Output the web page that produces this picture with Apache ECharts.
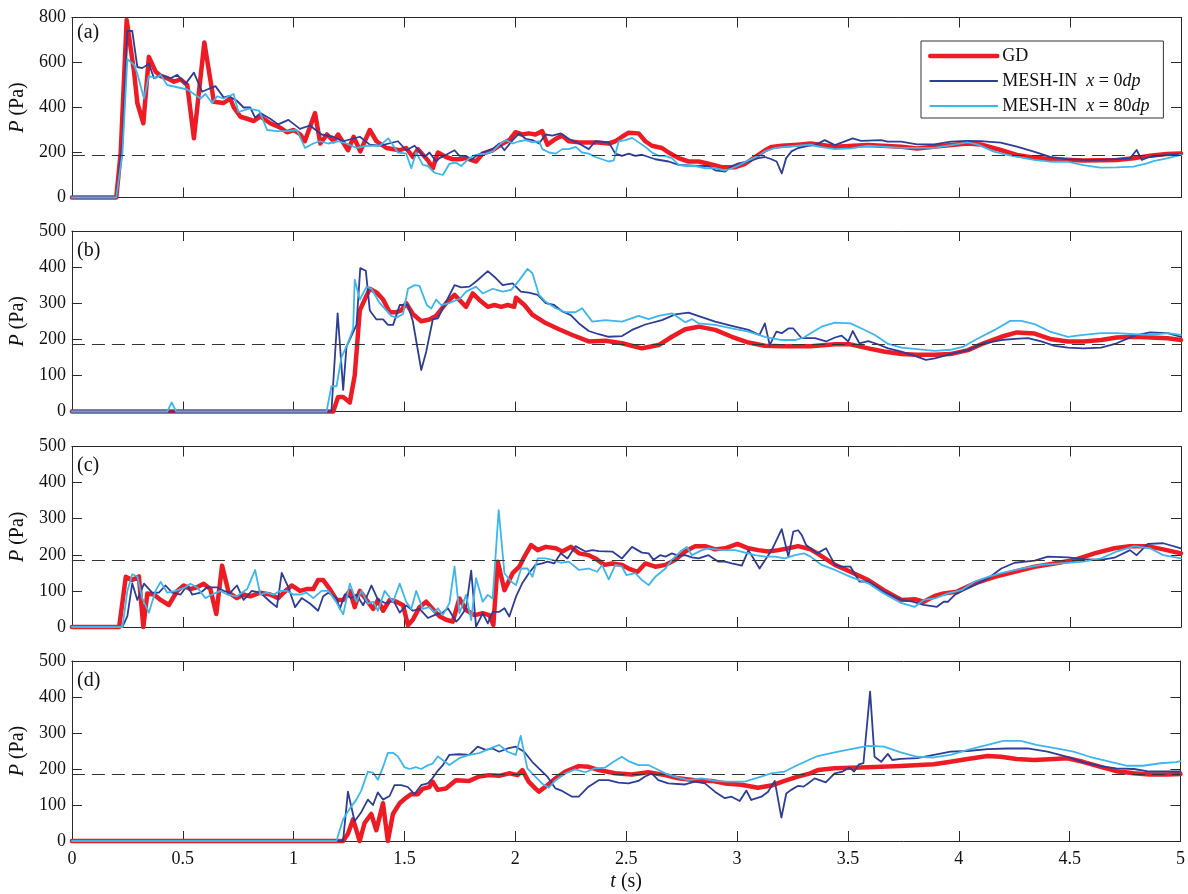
<!DOCTYPE html>
<html><head><meta charset="utf-8">
<script src="https://cdn.jsdelivr.net/npm/echarts@6/dist/echarts.min.js"></script>
<style>html,body{margin:0;padding:0;background:#fff}#c{width:1188px;height:894px}</style>
</head><body><div id="c"></div>
<script>
// ---------- DATA : [t (s), P (Pa)] ----------
const seriesNames = ['GD', 'MESH-IN x = 0dp', 'MESH-IN x = 80dp'];
const panelLabels = ['(a)', '(b)', '(c)', '(d)'];
const refPressure = 186;
const yMax = [800, 500, 500, 500];
const yStep = [200, 100, 100, 100];

const aGD = [[0,0],[0.2,0],[0.22,200],[0.247,789],[0.28,560],[0.295,420],[0.322,330],[0.347,625],[0.377,560],[0.4,540],[0.43,530],[0.46,515],[0.49,525],[0.52,500],[0.55,263],[0.597,689],[0.64,426],[0.684,420],[0.714,440],[0.73,400],[0.76,359],[0.79,350],[0.82,340],[0.85,360],[0.894,330],[0.94,310],[0.97,290],[1.0,300],[1.03,280],[1.05,250],[1.096,375],[1.12,240],[1.15,280],[1.18,250],[1.2,280],[1.245,210],[1.27,270],[1.3,205],[1.343,300],[1.373,250],[1.418,220],[1.478,210],[1.507,220],[1.537,180],[1.56,215],[1.605,165],[1.627,130],[1.65,200],[1.687,180],[1.717,170],[1.747,170],[1.777,175],[1.822,160],[1.852,195],[1.897,210],[1.942,240],[1.972,255],[2.0,290],[2.03,280],[2.06,285],[2.09,280],[2.12,295],[2.144,235],[2.18,260],[2.21,275],[2.24,250],[2.286,245],[2.36,245],[2.42,240],[2.45,250],[2.48,270],[2.51,288],[2.555,285],[2.585,250],[2.615,230],[2.66,220],[2.69,200],[2.735,175],[2.78,160],[2.826,160],[2.87,150],[2.93,135],[2.99,135],[3.035,150],[3.08,180],[3.125,210],[3.155,225],[3.2,230],[3.274,235],[3.33,240],[3.44,226],[3.588,233],[3.74,226],[3.81,218],[3.918,229],[4.037,240],[4.097,236],[4.187,211],[4.26,189],[4.337,177],[4.426,170],[4.56,164],[4.71,167],[4.786,174],[4.86,186],[4.936,193],[5.0,196]];
const aM0 = [[0,0],[0.2,0],[0.228,250],[0.25,740],[0.272,740],[0.295,580],[0.317,575],[0.347,595],[0.37,530],[0.4,545],[0.445,530],[0.475,545],[0.512,505],[0.55,555],[0.587,470],[0.61,480],[0.647,495],[0.684,445],[0.707,450],[0.744,430],[0.774,400],[0.804,400],[0.826,355],[0.85,375],[0.894,350],[0.93,325],[0.976,345],[1.028,305],[1.073,320],[1.126,280],[1.178,270],[1.223,250],[1.298,270],[1.343,235],[1.388,230],[1.47,250],[1.507,210],[1.545,230],[1.59,180],[1.612,200],[1.642,160],[1.657,175],[1.687,190],[1.725,210],[1.747,185],[1.777,185],[1.8,165],[1.822,185],[1.852,200],[1.897,215],[1.927,240],[1.95,210],[1.987,255],[2.017,285],[2.046,260],[2.076,255],[2.106,240],[2.136,280],[2.166,275],[2.204,285],[2.241,260],[2.286,240],[2.33,215],[2.36,250],[2.42,245],[2.45,195],[2.48,185],[2.51,195],[2.54,185],[2.57,190],[2.63,170],[2.69,160],[2.735,145],[2.826,140],[2.87,140],[2.9,121],[2.945,115],[2.975,140],[3.0,150],[3.05,160],[3.094,175],[3.124,180],[3.154,170],[3.177,160],[3.2,107],[3.22,175],[3.244,205],[3.274,220],[3.318,230],[3.35,233],[3.394,255],[3.44,233],[3.52,263],[3.558,252],[3.648,255],[3.678,248],[3.738,248],[3.81,236],[3.888,236],[3.963,248],[4.037,252],[4.097,251],[4.187,244],[4.26,226],[4.337,204],[4.41,181],[4.486,171],[4.56,167],[4.636,167],[4.71,171],[4.77,174],[4.8,211],[4.823,167],[4.86,181],[4.936,189],[5.0,192]];
const aM80 = [[0,0],[0.2,0],[0.228,200],[0.25,615],[0.28,590],[0.295,550],[0.325,440],[0.347,540],[0.377,530],[0.4,545],[0.43,500],[0.475,490],[0.52,480],[0.55,460],[0.58,440],[0.602,460],[0.632,420],[0.655,450],[0.684,440],[0.729,460],[0.751,380],[0.8,395],[0.845,385],[0.88,300],[0.924,295],[0.97,295],[1.014,300],[1.051,220],[1.088,240],[1.118,250],[1.155,240],[1.2,250],[1.238,240],[1.283,220],[1.328,230],[1.388,230],[1.426,263],[1.47,200],[1.507,195],[1.53,130],[1.552,200],[1.582,145],[1.605,140],[1.635,110],[1.672,100],[1.702,150],[1.732,155],[1.755,140],[1.792,175],[1.822,190],[1.867,195],[1.897,205],[1.927,235],[1.957,255],[1.987,240],[2.017,250],[2.046,255],[2.076,245],[2.106,250],[2.121,215],[2.151,200],[2.181,195],[2.211,215],[2.241,215],[2.271,225],[2.3,200],[2.33,195],[2.36,180],[2.39,170],[2.42,160],[2.443,165],[2.465,250],[2.495,255],[2.525,265],[2.555,245],[2.585,225],[2.615,200],[2.645,185],[2.675,185],[2.705,175],[2.735,145],[2.765,140],[2.81,140],[2.855,130],[2.9,130],[2.945,120],[2.975,130],[3.0,140],[3.05,165],[3.094,185],[3.124,205],[3.17,220],[3.214,225],[3.274,230],[3.33,235],[3.364,226],[3.44,215],[3.513,218],[3.588,230],[3.738,221],[3.888,221],[3.963,233],[4.037,245],[4.082,236],[4.157,204],[4.217,189],[4.337,167],[4.41,159],[4.486,159],[4.56,144],[4.636,133],[4.71,134],[4.786,137],[4.846,152],[4.876,162],[4.936,174],[5.0,189]];

const bGD = [[0,0],[1.178,0],[1.2,40],[1.223,40],[1.253,25],[1.275,100],[1.298,280],[1.32,310],[1.343,340],[1.373,330],[1.403,310],[1.433,275],[1.463,275],[1.485,280],[1.507,300],[1.537,270],[1.575,250],[1.612,255],[1.642,265],[1.657,277],[1.687,300],[1.725,323],[1.777,290],[1.807,327],[1.837,309],[1.875,290],[1.905,295],[1.935,290],[1.965,295],[1.994,290],[2.002,315],[2.04,295],[2.076,268],[2.136,245],[2.196,228],[2.256,212],[2.33,194],[2.405,196],[2.48,189],[2.57,175],[2.645,184],[2.705,207],[2.765,228],[2.826,235],[2.9,226],[2.975,207],[3.05,191],[3.124,182],[3.2,181],[3.33,181],[3.44,186],[3.51,186],[3.59,175],[3.66,166],[3.74,159],[3.81,157],[3.89,157],[3.96,159],[4.04,170],[4.11,189],[4.19,207],[4.26,219],[4.34,216],[4.41,201],[4.49,194],[4.56,194],[4.64,198],[4.71,205],[4.79,207],[4.94,203],[5.0,198]];
const bM0 = [[0,0],[1.17,0],[1.198,272],[1.223,60],[1.238,180],[1.268,220],[1.283,240],[1.3,397],[1.325,390],[1.343,280],[1.373,255],[1.403,255],[1.425,240],[1.448,240],[1.478,295],[1.515,295],[1.537,250],[1.575,115],[1.597,165],[1.627,255],[1.65,258],[1.687,304],[1.725,350],[1.755,344],[1.792,346],[1.822,360],[1.875,389],[1.912,369],[1.942,350],[1.987,355],[2.024,332],[2.06,329],[2.1,323],[2.136,300],[2.174,295],[2.211,277],[2.249,267],[2.286,244],[2.33,223],[2.375,214],[2.42,207],[2.48,209],[2.525,226],[2.585,241],[2.66,253],[2.72,269],[2.78,274],[2.826,264],[2.9,249],[2.975,237],[3.05,226],[3.1,212],[3.124,244],[3.146,184],[3.176,221],[3.2,217],[3.23,230],[3.252,230],[3.29,203],[3.35,203],[3.4,194],[3.44,205],[3.47,210],[3.5,194],[3.52,223],[3.55,189],[3.59,195],[3.63,187],[3.68,175],[3.74,166],[3.8,154],[3.85,143],[3.89,147],[3.96,159],[4.04,170],[4.11,189],[4.19,198],[4.25,201],[4.31,203],[4.37,194],[4.43,182],[4.49,177],[4.56,175],[4.64,177],[4.71,189],[4.79,210],[4.86,219],[4.94,217],[5.0,207]];
const bM80 = [[0,0],[0.43,0],[0.45,25],[0.47,0],[1.148,0],[1.17,70],[1.193,70],[1.215,150],[1.245,190],[1.268,230],[1.275,365],[1.298,310],[1.328,345],[1.35,340],[1.388,300],[1.418,280],[1.44,265],[1.463,260],[1.493,270],[1.515,340],[1.545,350],[1.567,348],[1.6,295],[1.62,285],[1.642,310],[1.665,295],[1.7,300],[1.75,313],[1.777,332],[1.822,346],[1.852,327],[1.897,340],[1.942,332],[1.98,337],[2.017,364],[2.054,395],[2.076,383],[2.106,323],[2.136,304],[2.181,286],[2.226,275],[2.27,275],[2.3,286],[2.346,249],[2.405,253],[2.48,249],[2.555,265],[2.6,256],[2.645,265],[2.705,272],[2.765,247],[2.795,256],[2.826,244],[2.9,240],[2.975,230],[3.05,221],[3.124,207],[3.2,198],[3.26,198],[3.3,205],[3.33,217],[3.38,235],[3.44,246],[3.51,244],[3.56,230],[3.62,212],[3.68,187],[3.74,177],[3.81,173],[3.89,168],[3.96,171],[4.02,180],[4.08,201],[4.16,226],[4.23,251],[4.28,251],[4.34,242],[4.41,221],[4.49,207],[4.56,212],[4.64,217],[4.71,217],[4.79,214],[4.86,212],[4.94,217],[5.0,212]];

const cGD = [[0,0],[0.213,0],[0.243,139],[0.272,130],[0.302,140],[0.322,0],[0.34,93],[0.37,90],[0.4,75],[0.437,61],[0.475,100],[0.504,115],[0.534,105],[0.564,110],[0.594,120],[0.624,105],[0.651,36],[0.677,170],[0.707,95],[0.744,80],[0.774,90],[0.804,85],[0.849,95],[0.894,90],[0.93,80],[0.954,95],[0.991,115],[1.028,100],[1.058,105],[1.088,105],[1.11,130],[1.133,130],[1.163,105],[1.193,75],[1.223,75],[1.253,100],[1.275,55],[1.298,100],[1.328,75],[1.358,50],[1.38,75],[1.403,45],[1.433,75],[1.463,70],[1.493,60],[1.515,5],[1.537,20],[1.567,55],[1.597,70],[1.627,50],[1.657,30],[1.687,20],[1.717,15],[1.747,79],[1.777,47],[1.815,33],[1.852,38],[1.882,33],[1.9,6],[1.92,181],[1.95,102],[1.987,149],[2.017,167],[2.04,195],[2.07,227],[2.1,213],[2.136,222],[2.181,218],[2.211,209],[2.249,222],[2.286,204],[2.33,199],[2.36,190],[2.4,172],[2.436,176],[2.48,172],[2.51,162],[2.55,153],[2.585,176],[2.63,167],[2.676,172],[2.72,186],[2.765,209],[2.81,224],[2.855,224],[2.9,215],[2.945,218],[3.0,230],[3.05,218],[3.094,213],[3.14,209],[3.185,213],[3.23,218],[3.274,224],[3.33,215],[3.36,204],[3.44,172],[3.51,153],[3.59,130],[3.66,102],[3.74,75],[3.8,77],[3.84,70],[3.89,86],[3.93,93],[3.99,98],[4.07,121],[4.16,139],[4.25,153],[4.34,167],[4.43,176],[4.52,186],[4.61,204],[4.7,218],[4.77,224],[4.85,224],[4.92,215],[5.0,204]];
const cM0 = [[0,0],[0.228,0],[0.25,30],[0.272,121],[0.295,75],[0.325,120],[0.362,95],[0.392,95],[0.422,115],[0.452,95],[0.49,90],[0.52,115],[0.542,90],[0.58,95],[0.61,110],[0.654,110],[0.684,100],[0.714,95],[0.744,115],[0.774,75],[0.811,100],[0.849,95],[0.894,70],[0.924,55],[0.946,150],[0.976,110],[1.006,55],[1.036,80],[1.073,65],[1.11,45],[1.133,85],[1.156,95],[1.193,80],[1.208,50],[1.23,90],[1.26,80],[1.283,90],[1.313,60],[1.35,115],[1.38,75],[1.418,65],[1.448,75],[1.478,40],[1.507,60],[1.537,45],[1.567,50],[1.605,25],[1.642,35],[1.672,40],[1.695,52],[1.732,15],[1.747,24],[1.777,52],[1.8,156],[1.822,1],[1.852,38],[1.875,10],[1.897,42],[1.927,42],[1.95,52],[1.972,29],[2.002,84],[2.03,121],[2.06,149],[2.09,172],[2.12,176],[2.144,181],[2.174,176],[2.204,204],[2.234,190],[2.27,224],[2.315,209],[2.346,213],[2.376,210],[2.436,209],[2.48,190],[2.525,222],[2.57,206],[2.6,204],[2.622,186],[2.652,199],[2.676,195],[2.705,204],[2.735,197],[2.765,199],[2.795,193],[2.826,190],[2.87,199],[2.915,181],[2.945,181],[2.975,176],[3.02,170],[3.05,213],[3.1,162],[3.155,213],[3.2,271],[3.23,195],[3.252,264],[3.274,268],[3.29,255],[3.31,227],[3.36,204],[3.4,218],[3.44,172],[3.47,167],[3.51,167],[3.55,126],[3.59,126],[3.66,98],[3.74,75],[3.79,70],[3.84,61],[3.9,56],[3.93,70],[3.95,70],[3.98,89],[4.02,102],[4.07,116],[4.13,135],[4.19,162],[4.25,178],[4.34,184],[4.4,195],[4.49,193],[4.56,188],[4.64,186],[4.7,192],[4.77,213],[4.8,199],[4.85,230],[4.92,232],[5.0,218]];
const cM80 = [[0,0],[0.228,0],[0.25,100],[0.272,146],[0.295,140],[0.317,80],[0.347,40],[0.377,100],[0.4,125],[0.43,95],[0.467,100],[0.512,110],[0.534,120],[0.564,110],[0.602,80],[0.632,90],[0.67,100],[0.7,90],[0.744,85],[0.79,105],[0.826,158],[0.849,90],[0.879,95],[0.909,90],[0.939,100],[0.969,100],[0.998,90],[1.028,90],[1.058,95],[1.088,80],[1.126,100],[1.156,100],[1.186,75],[1.223,35],[1.253,120],[1.283,70],[1.305,100],[1.335,65],[1.358,70],[1.38,45],[1.41,100],[1.448,70],[1.478,120],[1.507,70],[1.53,50],[1.552,100],[1.582,50],[1.612,55],[1.635,40],[1.65,52],[1.672,33],[1.702,66],[1.725,167],[1.747,38],[1.777,89],[1.8,19],[1.822,135],[1.852,70],[1.875,89],[1.897,79],[1.924,324],[1.95,149],[1.98,126],[2.002,116],[2.025,162],[2.054,162],[2.076,139],[2.1,190],[2.136,190],[2.166,186],[2.204,178],[2.24,181],[2.286,158],[2.33,162],[2.368,153],[2.39,172],[2.42,132],[2.45,172],[2.48,167],[2.5,144],[2.54,149],[2.57,130],[2.6,116],[2.63,139],[2.676,162],[2.705,186],[2.743,209],[2.772,222],[2.795,199],[2.84,213],[2.87,218],[2.93,213],[2.99,213],[3.035,206],[3.08,199],[3.124,195],[3.17,195],[3.214,190],[3.26,199],[3.3,204],[3.33,195],[3.38,172],[3.44,158],[3.51,139],[3.59,121],[3.66,93],[3.74,66],[3.8,56],[3.84,75],[3.89,79],[3.95,93],[4.01,102],[4.07,126],[4.13,139],[4.19,149],[4.28,162],[4.37,172],[4.46,176],[4.56,181],[4.64,190],[4.71,209],[4.79,224],[4.86,218],[4.92,199],[5.0,190]];

const dGD = [[0,0],[1.223,0],[1.245,20],[1.268,60],[1.298,0],[1.32,50],[1.35,75],[1.373,30],[1.403,105],[1.425,0],[1.448,75],[1.478,105],[1.507,120],[1.53,130],[1.56,130],[1.582,145],[1.612,150],[1.627,165],[1.65,142],[1.687,146],[1.732,169],[1.792,167],[1.837,179],[1.882,183],[1.927,181],[1.972,188],[2.01,183],[2.032,197],[2.06,165],[2.09,146],[2.106,137],[2.136,151],[2.181,174],[2.226,193],[2.286,208],[2.33,206],[2.376,197],[2.45,188],[2.525,185],[2.6,191],[2.676,183],[2.735,174],[2.81,169],[2.885,167],[2.945,160],[3.02,156],[3.094,148],[3.154,154],[3.214,167],[3.274,179],[3.33,188],[3.364,197],[3.44,202],[3.59,205],[3.738,208],[3.888,213],[3.963,220],[4.04,228],[4.13,236],[4.19,234],[4.26,228],[4.34,225],[4.43,228],[4.49,230],[4.56,220],[4.64,206],[4.71,194],[4.79,188],[4.86,185],[4.94,185],[5.0,186]];
const dM0 = [[0,0],[1.223,0],[1.245,137],[1.275,55],[1.305,80],[1.335,115],[1.358,100],[1.38,135],[1.403,115],[1.433,125],[1.455,155],[1.485,155],[1.515,150],[1.545,130],[1.575,155],[1.605,160],[1.627,175],[1.65,195],[1.672,210],[1.702,239],[1.747,241],[1.792,239],[1.83,262],[1.867,253],[1.897,257],[1.927,248],[1.965,257],[2.002,262],[2.04,248],[2.076,220],[2.106,202],[2.144,179],[2.181,146],[2.211,139],[2.256,123],[2.286,123],[2.33,151],[2.376,169],[2.42,169],[2.465,162],[2.51,160],[2.555,167],[2.585,179],[2.615,188],[2.645,169],[2.69,160],[2.765,157],[2.81,165],[2.855,160],[2.9,137],[2.945,119],[2.975,123],[3.012,111],[3.042,140],[3.064,114],[3.11,123],[3.14,137],[3.17,167],[3.2,65],[3.222,132],[3.244,142],[3.274,153],[3.3,151],[3.32,160],[3.35,174],[3.4,163],[3.44,188],[3.476,193],[3.506,204],[3.528,193],[3.55,213],[3.57,216],[3.6,415],[3.62,234],[3.65,220],[3.68,242],[3.7,225],[3.738,228],[3.813,230],[3.888,239],[3.963,248],[4.04,250],[4.13,255],[4.22,257],[4.31,257],[4.4,248],[4.49,234],[4.56,219],[4.64,208],[4.71,202],[4.79,200],[4.86,193],[4.94,193],[5.0,193]];
const dM80 = [[0,0],[1.193,0],[1.223,60],[1.253,90],[1.283,115],[1.305,140],[1.335,193],[1.358,190],[1.38,170],[1.403,205],[1.425,245],[1.448,245],[1.47,235],[1.5,205],[1.522,200],[1.552,205],[1.575,200],[1.605,210],[1.627,215],[1.65,235],[1.672,225],[1.702,211],[1.747,230],[1.792,239],[1.837,244],[1.882,256],[1.927,267],[1.965,248],[2.002,239],[2.024,292],[2.054,202],[2.09,179],[2.12,160],[2.151,148],[2.181,169],[2.226,188],[2.27,199],[2.315,191],[2.36,202],[2.405,204],[2.443,220],[2.48,234],[2.51,222],[2.555,211],[2.6,211],[2.63,202],[2.676,188],[2.72,179],[2.78,169],[2.84,174],[2.9,167],[2.96,165],[3.035,165],[3.094,176],[3.154,188],[3.214,193],[3.274,211],[3.33,227],[3.364,236],[3.44,246],[3.513,255],[3.59,264],[3.663,262],[3.738,246],[3.813,234],[3.888,232],[3.963,239],[4.04,253],[4.13,267],[4.2,278],[4.28,278],[4.35,267],[4.44,257],[4.517,248],[4.59,234],[4.67,222],[4.76,209],[4.83,209],[4.91,216],[4.98,219],[5.0,222]];

const panelData = [[aGD, aM0, aM80], [bGD, bM0, bM80], [cGD, cM0, cM80], [dGD, dM0, dM80]];

// ---------- STYLE ----------
const FONT = 'Liberation Serif';
const colors = ['#ED1C24', '#2E3D95', '#3CB6EC'];
const widths = [4.5, 1.8, 1.8];
const gridTop = [17.5, 231, 446.5, 661];
const gridH = [180, 180.5, 180.5, 180];
const labelTop = [23, 241, 456, 671];
const axisColor = '#2a2a2a';
const textColor = '#111';

function tick() { return {show: true, inside: true, length: 10, lineStyle: {color: axisColor, width: 1}}; }
function line() { return {show: true, onZero: false, lineStyle: {color: axisColor, width: 1}}; }
function richName() {
  return {color: textColor, fontFamily: FONT, fontSize: 20,
    rich: {i: {fontStyle: 'italic', fontFamily: FONT, fontSize: 20, color: textColor}}};
}

const grids = [], xAxes = [], yAxes = [], series = [], titles = [];
for (let p = 0; p < 4; p++) {
  grids.push({left: 68, width: 1113, top: gridTop[p], height: gridH[p]});
  const last = p === 3;
  xAxes.push({
    type: 'value', gridIndex: p, min: 0, max: 5, interval: 0.5, position: 'bottom',
    axisLine: line(), axisTick: tick(), splitLine: {show: false},
    axisLabel: {show: last, margin: 9, color: textColor, fontFamily: FONT, fontSize: 18},
    name: last ? '{i|t} (s)' : '', nameLocation: 'middle', nameGap: 31,
    nameTextStyle: richName()
  });
  xAxes.push({
    type: 'value', gridIndex: p, min: 0, max: 5, interval: 0.5, position: 'top',
    axisLine: line(), axisTick: tick(), splitLine: {show: false}, axisLabel: {show: false}
  });
  yAxes.push({
    type: 'value', gridIndex: p, min: 0, max: yMax[p], interval: yStep[p], position: 'left',
    axisLine: line(), axisTick: tick(), splitLine: {show: false},
    axisLabel: {show: true, margin: 6, color: textColor, fontFamily: FONT, fontSize: 18},
    name: '{i|P} (Pa)', nameLocation: 'middle', nameGap: 36, nameRotate: 90,
    nameTextStyle: richName()
  });
  yAxes.push({
    type: 'value', gridIndex: p, min: 0, max: yMax[p], interval: yStep[p], position: 'right',
    axisLine: line(), axisTick: tick(), splitLine: {show: false}, axisLabel: {show: false}
  });

  titles.push({text: panelLabels[p], left: 77, top: labelTop[p], padding: 0,
    textStyle: {fontFamily: FONT, fontSize: 20, fontWeight: 'normal', color: textColor}});

  for (let s = 0; s < 3; s++) {
    const ser = {
      type: 'line', name: seriesNames[s], data: panelData[p][s],
      xAxisIndex: 2 * p, yAxisIndex: 2 * p,
      symbol: 'none', clip: false, animation: false,
      lineStyle: {color: colors[s], width: widths[s], join: 'round', cap: 'round'},
      itemStyle: {color: colors[s]}, z: 2 + s
    };
    if (s === 0) {
      ser.markLine = {
        silent: true, symbol: ['none', 'none'], animation: false,
        label: {show: false},
        lineStyle: {color: '#333', width: 1, type: [13, 7]},
        data: [{yAxis: refPressure}]
      };
    }
    series.push(ser);
  }
}

const chart = echarts.init(document.getElementById('c'), null, {renderer: 'canvas'});
chart.setOption({
  backgroundColor: '#fff',
  animation: false,
  title: titles,
  grid: grids, xAxis: xAxes, yAxis: yAxes, series: series,
  legend: {
    data: seriesNames.map((n, i) => ({name: n, lineStyle: {width: widths[i], color: colors[i]}})),
    orient: 'vertical', left: 921, top: 41,
    itemWidth: 67, itemHeight: 14, itemGap: 7,
    padding: [6, 14, 3, 7],
    borderColor: '#333', borderWidth: 1, backgroundColor: '#fff',
    itemStyle: {opacity: 0},
    formatter: function (n) {
      if (n === 'GD') return 'GD';
      const m = n.match(/= (\d+)dp/);
      return 'MESH-IN  {i|x} = ' + m[1] + '{i|dp}';
    },
    textStyle: {fontFamily: FONT, fontSize: 18, color: textColor, lineHeight: 18,
      rich: {i: {fontStyle: 'italic', fontFamily: FONT, fontSize: 18, color: textColor, lineHeight: 18}}}
  }
});
</script></body></html>
